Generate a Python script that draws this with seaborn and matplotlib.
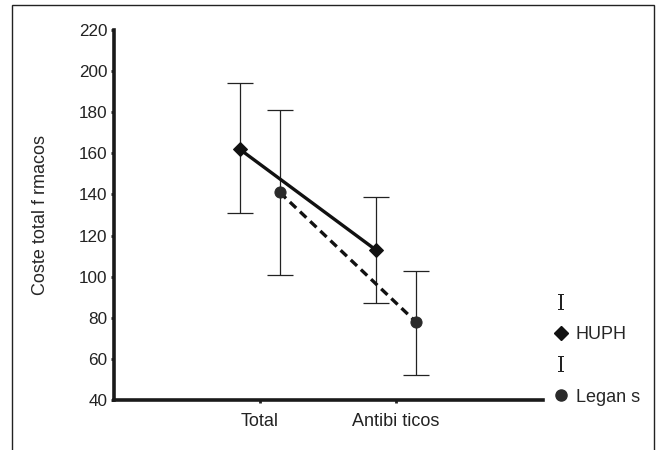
import numpy as np
import pandas as pd
import matplotlib
matplotlib.use("Agg")
import matplotlib.pyplot as plt
from matplotlib.patches import Rectangle
import seaborn as sns

categories = ["Total", "Antibi ticos"]
groups = ["HUPH", "Legan s"]
huph_mean = [162, 113]
huph_low = [131, 87]
huph_high = [194, 139]
legan_mean = [141, 78]
legan_low = [101, 52]
legan_high = [181, 103]

sns.set_theme(style="white")
plt.rcParams["font.family"] = ["Liberation Sans", "DejaVu Sans"]
plt.rcParams["mathtext.fontset"] = "dejavuserif"

fig = plt.figure(figsize=(6.56, 4.5), dpi=100)
ax = fig.add_axes([114 / 656, 1 - 400 / 450, (543 - 114) / 656, (400 - 30) / 450])

offset = 0.147
rows = []
for gi, (g, m, lo, hi) in enumerate([("HUPH", huph_mean, huph_low, huph_high),
                                      ("Legan s", legan_mean, legan_low, legan_high)]):
    for ci, c in enumerate(categories):
        rows.append(dict(group=g, cat=c, x=ci + (-offset if gi == 0 else offset),
                         y=m[ci], lo=lo[ci], hi=hi[ci]))
df = pd.DataFrame(rows)

styles = {"HUPH": dict(color="#111111", marker="D", ms=7, dashes=None),
          "Legan s": dict(color="#2a2a2a", marker="o", ms=8, dashes=(2.6, 1.6))}

handles = []
for g in groups:
    sub = df[df.group == g]
    st = styles[g]
    ax.errorbar(sub.x, sub.y, yerr=[sub.y - sub.lo, sub.hi - sub.y], fmt="none",
                ecolor="#222222", elinewidth=0.9, capsize=9.5, capthick=0.9, zorder=2)
    sns.lineplot(data=sub, x="x", y="y", ax=ax, color="#111111", lw=2.4,
                 marker=st["marker"], markersize=st["ms"], markerfacecolor=st["color"],
                 markeredgecolor=st["color"], zorder=3, legend=False)
    if st["dashes"]:
        ax.lines[-1].set_dashes(st["dashes"])
    eb = plt.Line2D([], [], ls="none", marker="$\\mathrm{I}$", ms=11, mew=0,
                    color="#222222")
    mk = plt.Line2D([], [], ls="none", marker=st["marker"], ms=st["ms"],
                    color=st["color"])
    handles += [(eb, " "), (mk, g)]

ax.set_xlim(-1.07, 2.08)
ax.set_ylim(40, 220)
ax.set_yticks(np.arange(40, 221, 20))
ax.set_xticks(range(len(categories)))
ax.set_xticklabels(categories, fontsize=13)
ax.set_xlabel("")
ax.set_ylabel("Coste total f rmacos", fontsize=13, labelpad=22)
ax.tick_params(axis="both", labelsize=12.3, length=2.5, width=2, direction="out",
               colors="#222222", pad=2, left=True, bottom=True)
ax.tick_params(axis="x", labelsize=13, pad=7)
for s in ["top", "right"]:
    ax.spines[s].set_visible(False)
for s in ["left", "bottom"]:
    ax.spines[s].set_linewidth(2.6)
    ax.spines[s].set_color("#1a1a1a")

leg = ax.legend([h for h, _ in handles], [l for _, l in handles], frameon=False,
                loc="upper left", bbox_to_anchor=(538 / 656, 1 - 279 / 450),
                bbox_transform=fig.transFigure, fontsize=13, handlelength=0.8,
                handletextpad=0.4, labelspacing=0.78)

fig.patches.append(Rectangle((12 / 656, -0.05), (654 - 12) / 656, 1.05 - 5 / 450,
                             transform=fig.transFigure, fill=False, lw=1,
                             edgecolor="#222222"))

fig.savefig("out.png", dpi=100)
